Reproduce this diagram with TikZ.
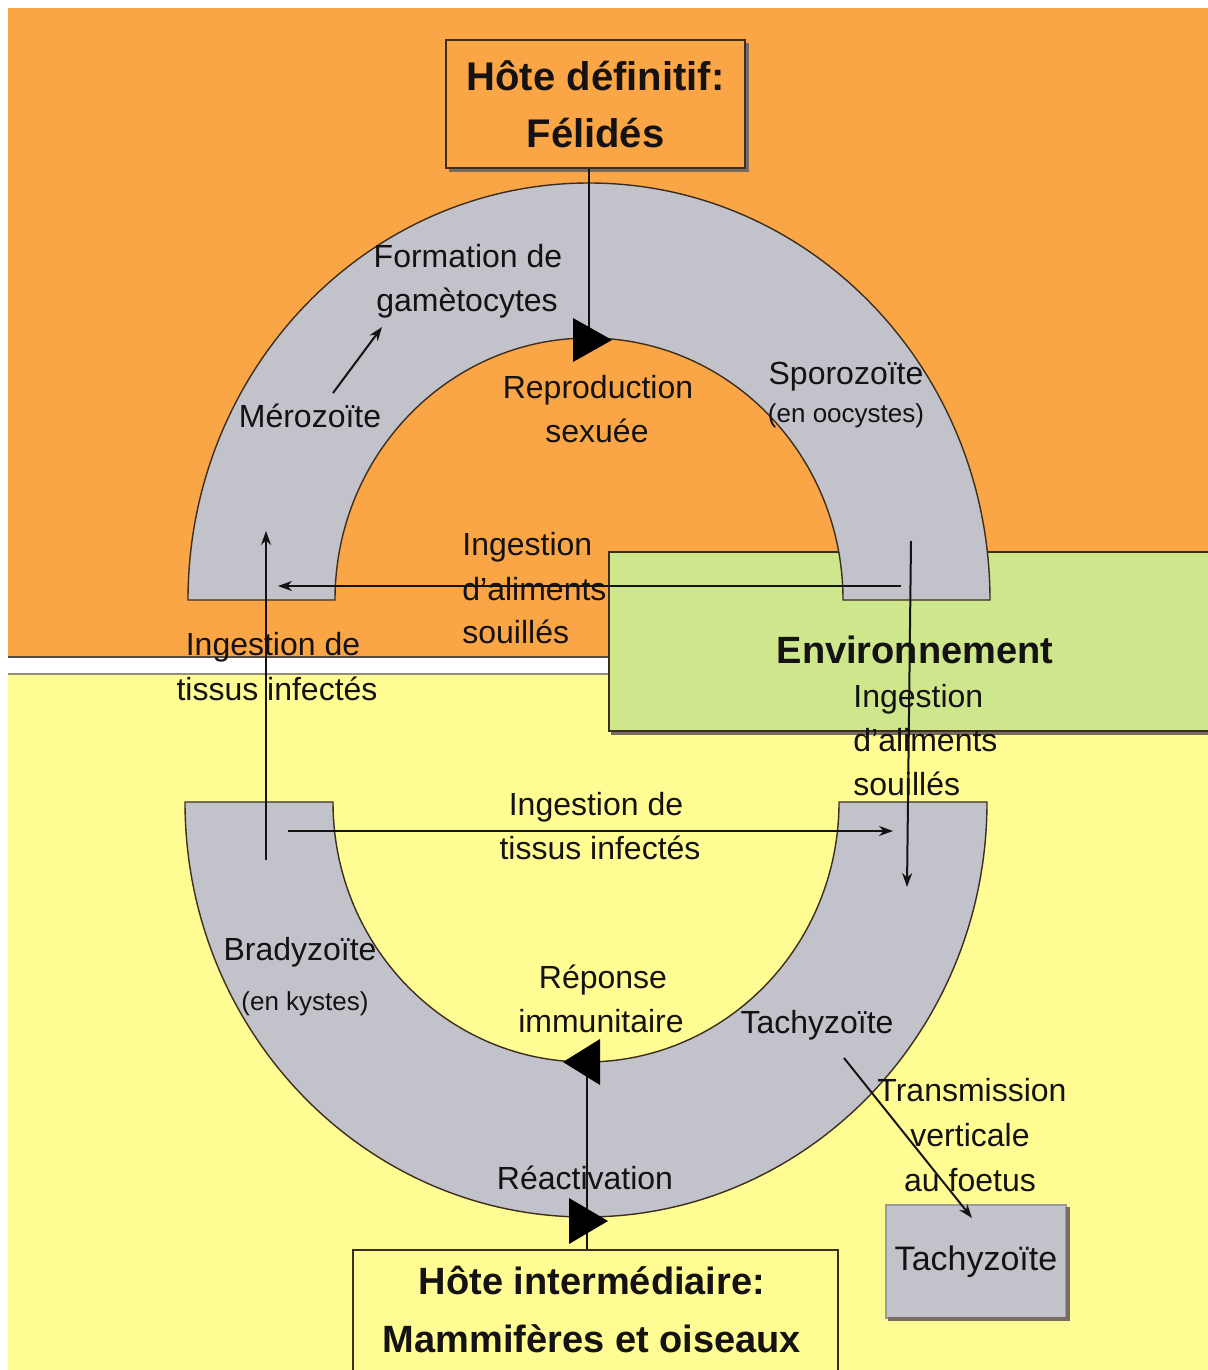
\documentclass[tikz,border=0pt]{standalone}
\usepackage{fontspec}
\setmainfont{Liberation Sans}
\usetikzlibrary{arrows.meta}
\definecolor{orangebg}{RGB}{250,166,70}
\definecolor{yellowbg}{RGB}{255,252,148}
\definecolor{greenbg}{RGB}{206,230,140}
\definecolor{archgray}{RGB}{194,194,202}
\definecolor{edge}{RGB}{60,45,30}
\definecolor{ink}{RGB}{20,18,18}
\begin{document}
\begin{tikzpicture}[x=0.5pt,y=0.5pt,
  lbl/.style={font=\fontsize{16}{19}\selectfont,text=ink,inner sep=0pt,anchor=base},
  lblw/.style={lbl,anchor=base west},
  small/.style={lbl,font=\fontsize{13}{16}\selectfont},
  title/.style={font=\bfseries\fontsize{20}{28.5}\selectfont,text=ink,align=center},
  conn/.style={draw=ink,line width=1pt},
  arr/.style={conn,-{Stealth[length=7pt,width=5pt]}},
  arch/.style={fill=archgray,draw=edge,line width=0.7pt},
  bigtip/.style={fill=black},
  shadow/.style={draw=edge!70,line width=1.5pt}
]
\fill[white] (0,0) rectangle (1208,-1370);
\useasboundingbox (0,0) rectangle (1208,-1370);
% backgrounds
\fill[orangebg] (8,-8) rectangle (1208,-657);
\fill[yellowbg] (8,-674) rectangle (1208,-1370);
\draw[edge!85,line width=1.2pt] (8,-657) -- (608,-657);
\draw[edge!55,line width=1pt] (8,-674) -- (608,-674);
% environment box (sizes in pt = px/2)
\node[fill=greenbg,draw=edge,line width=1pt,minimum width=303pt,minimum height=89.5pt,inner sep=0pt,anchor=north west] (env) at (608,-551) {};
\draw[shadow] (611,-733) -- (1208,-733);
\node[font=\bfseries\fontsize{19}{23}\selectfont,text=ink,inner sep=0pt,anchor=base] (envtxt) at (915,-663) {Environnement};
% top box
\node[fill=orangebg,draw=edge,line width=1pt,minimum width=149.5pt,minimum height=64pt,inner sep=0pt,title] (top) at (595.5,-104) {Hôte définitif:\\Félidés};
\draw[shadow] (449,-170.5) -- (747.5,-170.5) -- (747.5,-43);
% upper arch
\draw[arch] (188,-600) arc[start angle=180,end angle=0,x radius=401,y radius=417]
  -- (843,-600) arc[start angle=0,end angle=180,x radius=254,y radius=262] -- cycle;
% lower arch
\draw[arch] (185,-802) arc[start angle=180,end angle=360,x radius=401,y radius=415]
  -- (839,-802) arc[start angle=360,end angle=180,x radius=253,y radius=260] -- cycle;
% bottom box
\node[draw=edge,line width=1pt,minimum width=242.5pt,minimum height=70pt,inner sep=0pt,anchor=north,fill=yellowbg] (bot) at (595.5,-1249) {};
\node[font=\bfseries\fontsize{19}{29}\selectfont,text=ink,align=center,inner sep=0pt,anchor=north] (bottxt) at (592,-1266) {Hôte intermédiaire:\\Mammifères et oiseaux};
% small tachyzoite box
\node[fill=archgray,draw=archgray!80!black,line width=0.6pt,minimum width=90pt,minimum height=56.5pt,inner sep=0pt,font=\fontsize{17}{20}\selectfont,text=ink] (tbox) at (976,-1261.5) {Tachyzoïte};
\draw[shadow,line width=2pt] (888,-1319) -- (1068,-1319) -- (1068,-1207);
% coordinates
\coordinate (t1) at (589,-340);
\coordinate (r1) at (587,-1062);
\coordinate (merA) at (333,-393);
\coordinate (merB) at (382,-327);
\coordinate (lA) at (266,-860);
\coordinate (lB) at (266,-531);
\coordinate (uhA) at (901,-586);
\coordinate (uhB) at (278,-586);
\coordinate (rA) at (911,-541);
\coordinate (rB) at (907,-887);
\coordinate (lhA) at (288,-831);
\coordinate (lhB) at (893,-831);
\coordinate (dA) at (844,-1058);
\coordinate (dB) at (972,-1218);
% connectors
\draw[conn] (top.south -| t1) -- (t1);
\draw[conn] (r1) -- (r1 |- bot.north);
\draw[arr] (merA) -- (merB);
\draw[arr] (lA) -- (lB);
\draw[arr] (uhA) -- (uhB);
\draw[arr] (rA) -- (rB);
\draw[arr] (lhA) -- (lhB);
\draw[arr] (dA) -- (dB);
% big triangles
\fill[bigtip] (573,-318) -- (612,-340) -- (573,-362) -- cycle;
\fill[bigtip] (600,-1039) -- (563,-1062) -- (600,-1085) -- cycle;
\fill[bigtip] (569,-1198) -- (608,-1221) -- (569,-1244) -- cycle;
% labels
\node[lbl] (form1) at (468,-267) {Formation de};
\node[lbl] (form2) at (467,-311) {gamètocytes};
\node[lbl] (mero) at (310,-427) {Mérozoïte};
\node[lbl] (repro1) at (598,-398) {Reproduction};
\node[lbl] (repro2) at (597,-442) {sexuée};
\node[lbl] (sporo) at (846,-384) {Sporozoïte};
\node[small] (oocy) at (846,-422) {(en oocystes)};
\node[lblw] (ia1) at (462,-555) {Ingestion};
\node[lblw] (ia2) at (462,-600) {d'aliments};
\node[lblw] (ia3) at (462,-643) {souillés};
\node[lbl] (it1) at (273,-655) {Ingestion de};
\node[lbl] (it2) at (277,-700) {tissus infectés};
\node[lblw] (ib1) at (853,-707) {Ingestion};
\node[lblw] (ib2) at (853,-751) {d'aliments};
\node[lblw] (ib3) at (853,-795) {souillés};
\node[lbl] (ic1) at (596,-815) {Ingestion de};
\node[lbl] (ic2) at (600,-859) {tissus infectés};
\node[lbl] (brady) at (300,-960) {Bradyzoïte};
\node[small] (kyst) at (305,-1010) {(en kystes)};
\node[lbl] (rep1) at (603,-988) {Réponse};
\node[lbl] (rep2) at (601,-1032) {immunitaire};
\node[lbl] (tachy) at (817,-1033) {Tachyzoïte};
\node[lbl] (tr1) at (972,-1101) {Transmission};
\node[lbl] (tr2) at (970,-1146) {verticale};
\node[lbl] (tr3) at (970,-1191) {au foetus};
\node[lbl] (react) at (585,-1189) {Réactivation};
\end{tikzpicture}
\end{document}
